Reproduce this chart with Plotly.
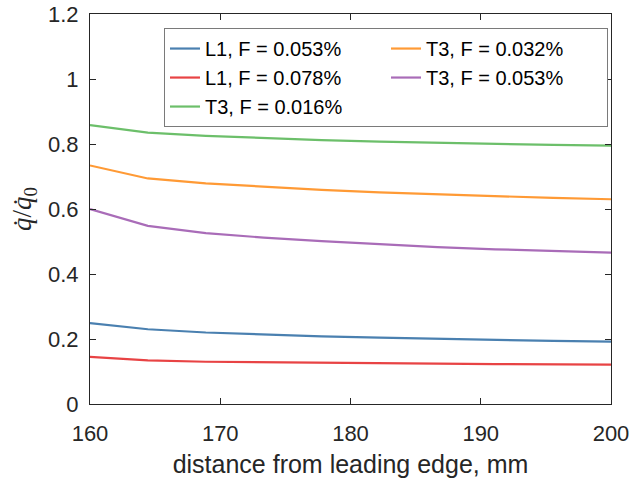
import plotly.graph_objects as go

x_mm = [160.0, 164.44, 168.89, 173.33, 177.78, 182.22, 186.67, 191.11, 195.56, 200.0]

l1_f053 = [0.249, 0.230, 0.220, 0.213, 0.208, 0.204, 0.200, 0.197, 0.194, 0.192]
l1_f078 = [0.145, 0.134, 0.130, 0.128, 0.126, 0.125, 0.124, 0.123, 0.122, 0.121]
t3_f016 = [0.858, 0.835, 0.825, 0.818, 0.812, 0.807, 0.803, 0.800, 0.797, 0.795]
t3_f032 = [0.734, 0.694, 0.679, 0.668, 0.659, 0.651, 0.645, 0.639, 0.634, 0.630]
t3_f053 = [0.600, 0.548, 0.526, 0.512, 0.501, 0.491, 0.483, 0.476, 0.471, 0.466]

series_names = ["L1, F = 0.053%", "T3, F = 0.032%", "L1, F = 0.078%",
                "T3, F = 0.053%", "T3, F = 0.016%"]
series_values = [l1_f053, t3_f032, l1_f078, t3_f053, t3_f016]
series_colors = ["#4a80b0", "#ff9a35", "#e84344", "#a96cb8", "#6cbf6a"]

x_ticks = [160, 170, 180, 190, 200]
y_ticks = [0, 0.2, 0.4, 0.6, 0.8, 1.0, 1.2]

fig = go.Figure()
for name, vals, col in zip(series_names, series_values, series_colors):
    fig.add_trace(go.Scatter(x=x_mm, y=vals, mode="lines", name=name,
                             line=dict(color=col, width=2.2)))

axis_common = dict(showgrid=False, zeroline=False, showline=True, mirror="ticks",
                   linecolor="#262626", linewidth=1, ticks="inside", ticklen=6,
                   tickcolor="#262626", automargin=False,
                   tickfont=dict(family="Liberation Sans, Arial, sans-serif",
                                 size=22, color="#262626"))

fig.update_layout(
    width=633, height=485,
    margin=dict(l=90, r=22, t=14, b=81),
    paper_bgcolor="white", plot_bgcolor="white",
    showlegend=True,
    legend=dict(orientation="h", x=0.142, y=0.964, xanchor="left", yanchor="top",
                bgcolor="white", bordercolor="#7a7a7a", borderwidth=1,
                entrywidth=176, traceorder="normal",
                font=dict(family="Liberation Sans, Arial, sans-serif", size=20,
                          color="#000000")),
    xaxis=dict(range=[160, 200], tickvals=x_ticks, ticklabelstandoff=10,
               title=dict(text="distance from leading edge, mm", standoff=10,
                          font=dict(family="Liberation Sans, Arial, sans-serif",
                                    size=25, color="#262626")),
               **axis_common),
    yaxis=dict(range=[0, 1.2], tickvals=y_ticks, ticklabelstandoff=6,
               title=dict(text="<i>q̇</i>/<i>q̇</i><sub>0</sub>", standoff=8,
                          font=dict(family="Liberation Serif, DejaVu Serif, serif",
                                    size=27, color="#262626")),
               **axis_common),
)

fig.write_html("out.html")
